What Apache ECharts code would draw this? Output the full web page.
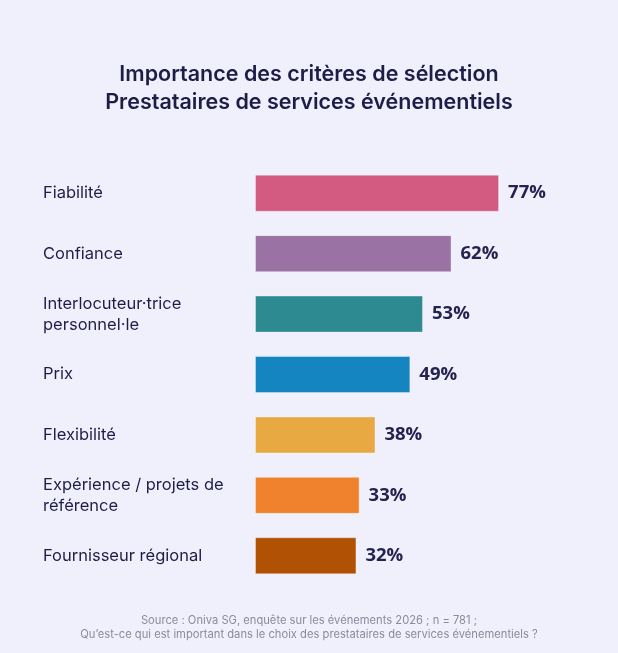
<!DOCTYPE html>
<html>
<head>
<meta charset="utf-8">
<script src="https://cdn.jsdelivr.net/npm/echarts@6/dist/echarts.min.js"></script>
<style>
  html, body { margin: 0; padding: 0; background: #f0f0fd; }
  #chart { width: 618px; height: 653px; }
</style>
</head>
<body>
<div id="chart"></div>
<script>
// critères et pourcentages
var categories = ['Fiabilité', 'Confiance', 'Interlocuteur·trice\npersonnel·le', 'Prix', 'Flexibilité', 'Expérience / projets de\nréférence', 'Fournisseur régional'];
var values = [77, 62, 53, 49, 38, 33, 32];
var barColors = ['#d35b81', '#9b72a4', '#2e8a91', '#1585c1', '#e8a842', '#f0822e', '#b05103'];

var chart = echarts.init(document.getElementById('chart'));

var seriesData = [];
for (var i = 0; i < values.length; i++) {
	seriesData.push({ value: values[i], itemStyle: { color: barColors[i] } });
}

var option = {
	backgroundColor: '#f0f0fd',
	title: [
		{
			text: 'Importance des critères de sélection\nPrestataires de services événementiels',
			left: 'center',
			top: 56,
			textStyle: {
				fontFamily: 'Inter',
				fontSize: 21.5,
				fontWeight: 600,
				color: '#1f1d47',
				lineHeight: 28
			}
		},
		{
			text: 'Source : Oniva SG, enquête sur les événements 2026 ; n = 781 ;\nQu’est-ce qui est important dans le choix des prestataires de services événementiels ?',
			left: 'center',
			top: 609,
			textStyle: {
				fontFamily: 'Inter',
				fontSize: 11.2,
				fontWeight: 'normal',
				color: '#8a8a9c',
				lineHeight: 14
			}
		}
	],
	grid: {
		left: 255,
		right: 46,
		top: 163,
		bottom: 67
	},
	xAxis: {
		type: 'value',
		min: 0,
		max: 100,
		show: false
	},
	yAxis: {
		type: 'category',
		data: categories,
		inverse: true,
		axisLine: { show: false },
		axisTick: { show: false },
		axisLabel: {
			align: 'left',
			margin: 212,
			fontFamily: 'Inter',
			fontSize: 16.5,
			color: '#1f1d47',
			lineHeight: 21
		}
	},
	series: [
		{
			type: 'bar',
			data: seriesData,
			barWidth: 37,
			itemStyle: {
				borderColor: 'rgba(255,255,255,0.35)',
				borderWidth: 1
			},
			label: {
				show: true,
				position: 'right',
				distance: 9,
				formatter: '{c}%',
				fontFamily: 'Open Sans',
				fontWeight: 'bold',
				fontSize: 18.5,
				color: '#26224f'
			}
		}
	]
};

chart.setOption(option);
</script>
</body>
</html>
